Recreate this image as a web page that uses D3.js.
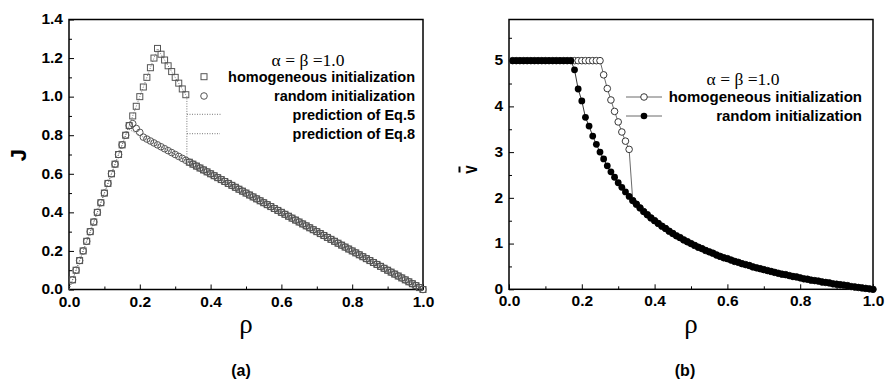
<!DOCTYPE html>
<html>
<head>
<meta charset="utf-8">
<script src="https://cdn.jsdelivr.net/npm/d3@7"></script>
<style>
  body { margin: 0; background: #fff; }
  svg text { font-family: "Liberation Sans", Arial, sans-serif; font-weight: bold; fill: #000; }
  svg text.serif { font-family: "Liberation Serif", "Times New Roman", serif; font-weight: normal; }
</style>
</head>
<body>
<div id="chart"></div>
<script>
// density grid (x values for both panels)
var rho = [
  0.01,0.02,0.03,0.04,0.05,0.06,0.07,0.08,0.09,0.10,
  0.11,0.12,0.13,0.14,0.15,0.16,0.17,0.18,0.19,0.20,
  0.21,0.22,0.23,0.24,0.25,0.26,0.27,0.28,0.29,0.30,
  0.31,0.32,0.33,0.34,0.35,0.36,0.37,0.38,0.39,0.40,
  0.41,0.42,0.43,0.44,0.45,0.46,0.47,0.48,0.49,0.50,
  0.51,0.52,0.53,0.54,0.55,0.56,0.57,0.58,0.59,0.60,
  0.61,0.62,0.63,0.64,0.65,0.66,0.67,0.68,0.69,0.70,
  0.71,0.72,0.73,0.74,0.75,0.76,0.77,0.78,0.79,0.80,
  0.81,0.82,0.83,0.84,0.85,0.86,0.87,0.88,0.89,0.90,
  0.91,0.92,0.93,0.94,0.95,0.96,0.97,0.98,0.99,1.00
];

// panel (a): flux J
var homogJ = [
  0.05,0.10,0.15,0.20,0.25,0.30,0.35,0.40,0.45,0.50,
  0.55,0.60,0.65,0.70,0.75,0.80,0.85,0.90,0.95,1.00,
  1.05,1.10,1.15,1.20,1.25,1.22,1.19,1.16,1.13,1.10,
  1.07,1.04,1.01,0.66,0.65,0.64,0.63,0.62,0.61,0.60,
  0.59,0.58,0.57,0.56,0.55,0.54,0.53,0.52,0.51,0.50,
  0.49,0.48,0.47,0.46,0.45,0.44,0.43,0.42,0.41,0.40,
  0.39,0.38,0.37,0.36,0.35,0.34,0.33,0.32,0.31,0.30,
  0.29,0.28,0.27,0.26,0.25,0.24,0.23,0.22,0.21,0.20,
  0.19,0.18,0.17,0.16,0.15,0.14,0.13,0.12,0.11,0.10,
  0.09,0.08,0.07,0.06,0.05,0.04,0.03,0.02,0.01,0.00
];
var randomJ = [
  0.05,0.10,0.15,0.20,0.25,0.30,0.35,0.40,0.45,0.50,
  0.55,0.60,0.65,0.70,0.75,0.80,0.85,0.86,0.835,0.815,
  0.79,0.78,0.77,0.76,0.75,0.74,0.73,0.72,0.71,0.70,
  0.69,0.68,0.67,0.66,0.65,0.64,0.63,0.62,0.61,0.60,
  0.59,0.58,0.57,0.56,0.55,0.54,0.53,0.52,0.51,0.50,
  0.49,0.48,0.47,0.46,0.45,0.44,0.43,0.42,0.41,0.40,
  0.39,0.38,0.37,0.36,0.35,0.34,0.33,0.32,0.31,0.30,
  0.29,0.28,0.27,0.26,0.25,0.24,0.23,0.22,0.21,0.20,
  0.19,0.18,0.17,0.16,0.15,0.14,0.13,0.12,0.11,0.10,
  0.09,0.08,0.07,0.06,0.05,0.04,0.03,0.02,0.01,0.00
];
// dotted predictions (Eq.5 homogeneous, Eq.8 random)
var eq5Rho = [0, 0.25, 0.333, 0.333, 1.0];
var eq5J   = [0, 1.25, 1.0, 0.667, 0];
var eq8Rho = [0, 0.1667, 1.0];
var eq8J   = [0, 0.8333, 0];

// panel (b): mean velocity
var homogV = [
  5,5,5,5,5,5,5,5,5,5,
  5,5,5,5,5,5,5,5,5,5,
  5,5,5,5,5,4.69,4.39,4.14,3.89,3.66,
  3.44,3.24,3.06,1.94,1.86,1.78,1.70,1.63,1.56,1.50,
  1.44,1.38,1.33,1.27,1.22,1.17,1.13,1.08,1.04,1.00,
  0.96,0.92,0.89,0.85,0.82,0.79,0.75,0.72,0.69,0.67,
  0.64,0.61,0.59,0.56,0.54,0.52,0.49,0.47,0.45,0.43,
  0.41,0.39,0.37,0.35,0.33,0.32,0.30,0.28,0.27,0.25,
  0.23,0.22,0.20,0.19,0.18,0.16,0.15,0.14,0.12,0.11,
  0.10,0.09,0.08,0.06,0.05,0.04,0.03,0.02,0.01,0.00
];
var randomV = [
  5,5,5,5,5,5,5,5,5,5,
  5,5,5,5,5,5,5,4.80,4.38,4.12,
  3.76,3.57,3.35,3.17,3.00,2.85,2.70,2.57,2.45,2.33,
  2.23,2.13,2.03,1.94,1.86,1.78,1.70,1.63,1.56,1.50,
  1.44,1.38,1.33,1.27,1.22,1.17,1.13,1.08,1.04,1.00,
  0.96,0.92,0.89,0.85,0.82,0.79,0.75,0.72,0.69,0.67,
  0.64,0.61,0.59,0.56,0.54,0.52,0.49,0.47,0.45,0.43,
  0.41,0.39,0.37,0.35,0.33,0.32,0.30,0.28,0.27,0.25,
  0.23,0.22,0.20,0.19,0.18,0.16,0.15,0.14,0.12,0.11,
  0.10,0.09,0.08,0.06,0.05,0.04,0.03,0.02,0.01,0.00
];

var xTicks = [0, 0.2, 0.4, 0.6, 0.8, 1.0];
var xMinor = [0.1, 0.3, 0.5, 0.7, 0.9];
var jTicks = [0, 0.2, 0.4, 0.6, 0.8, 1.0, 1.2, 1.4];
var jMinor = [0.1, 0.3, 0.5, 0.7, 0.9, 1.1, 1.3];
var vTicks = [0, 1, 2, 3, 4, 5];
var vMinor = [0.5, 1.5, 2.5, 3.5, 4.5, 5.5];
var legendA = ['homogeneous initialization', 'random initialization', 'prediction of Eq.5', 'prediction of Eq.8'];
var legendB = ['homogeneous initialization', 'random initialization'];

var svg = d3.select('#chart').append('svg').attr('width', 893).attr('height', 383);

var drawAxes = function(x, y, yTicks, yMinor, yFmt) {
  var g = svg.append('g');
  var h = y.range()[0];
  var gx = g.append('g').attr('transform', 'translate(0,' + h + ')');
  gx.call(d3.axisBottom(x).tickValues(xTicks).tickSizeInner(-5).tickSizeOuter(0).tickPadding(6).tickFormat(d3.format('.1f')));
  gx.append('g').call(d3.axisBottom(x).tickValues(xMinor).tickSizeInner(-3).tickSizeOuter(0).tickFormat(''));
  var gy = g.append('g').attr('transform', 'translate(' + x.range()[0] + ',0)');
  gy.call(d3.axisLeft(y).tickValues(yTicks).tickSizeInner(-5).tickSizeOuter(0).tickPadding(6).tickFormat(yFmt));
  gy.append('g').call(d3.axisLeft(y).tickValues(yMinor).tickSizeInner(-3).tickSizeOuter(0).tickFormat(''));
  g.selectAll('.domain').remove();
  g.selectAll('.tick line').attr('stroke', '#000').attr('stroke-width', 1);
  g.selectAll('.tick text').style('font-size', '15.5px').style('font-family', '"Liberation Sans", Arial, sans-serif').style('font-weight', 'bold');
  gy.selectAll('.tick text').attr('dy', '0.28em');
  svg.append('rect')
    .attr('x', x.range()[0]).attr('y', y.range()[1])
    .attr('width', x.range()[1] - x.range()[0]).attr('height', y.range()[0] - y.range()[1])
    .attr('fill', 'none').attr('stroke', '#000').attr('stroke-width', 1.5);
  // x label
  var cx = (x.range()[0] + x.range()[1]) / 2;
  svg.append('text').attr('class', 'serif').attr('x', cx).attr('y', 333)
    .attr('text-anchor', 'middle').style('font-size', '27px').text('ρ');
};

// ---------- panel (a)
var xa = d3.scaleLinear().domain([0, 1]).range([69, 423]);
var ya = d3.scaleLinear().domain([0, 1.4]).range([289.5, 19.5]);
drawAxes(xa, ya, jTicks, jMinor, d3.format('.1f'));

var lineA = d3.line().x(function(d) { return xa(d[0]); }).y(function(d) { return ya(d[1]); });
svg.append('path').datum(d3.zip(eq5Rho, eq5J)).attr('d', lineA)
  .attr('fill', 'none').attr('stroke', '#777').attr('stroke-width', 1).attr('stroke-dasharray', '1,1.5');
svg.append('path').datum(d3.zip(eq8Rho, eq8J)).attr('d', lineA)
  .attr('fill', 'none').attr('stroke', '#777').attr('stroke-width', 1).attr('stroke-dasharray', '1,1.5');

svg.append('g').selectAll('rect').data(d3.zip(rho, homogJ)).enter().append('rect')
  .attr('x', function(d) { return xa(d[0]) - 3; })
  .attr('y', function(d) { return ya(d[1]) - 3; })
  .attr('width', 6).attr('height', 6)
  .attr('fill', 'none').attr('stroke', '#555').attr('stroke-width', 1);
svg.append('g').selectAll('circle').data(d3.zip(rho, randomJ)).enter().append('circle')
  .attr('cx', function(d) { return xa(d[0]); })
  .attr('cy', function(d) { return ya(d[1]); })
  .attr('r', 3.3)
  .attr('fill', 'none').attr('stroke', '#555').attr('stroke-width', 1);

// legend (a)
svg.append('text').attr('class', 'serif').attr('x', 308).attr('y', 65.5)
  .attr('text-anchor', 'middle').style('font-size', '17.5px').text('α = β =1.0');
var legA = svg.append('g');
legA.selectAll('text').data(legendA).enter().append('text')
  .attr('x', 415).attr('y', function(d, i) { return [76.7, 96, 115, 134][i]; })
  .attr('dy', '0.35em').attr('text-anchor', 'end').style('font-size', '14.5px').text(function(d) { return d; });
legA.append('rect').attr('x', 201).attr('y', 73.7).attr('width', 6).attr('height', 6)
  .attr('fill', 'none').attr('stroke', '#555');
legA.append('circle').attr('cx', 204).attr('cy', 96).attr('r', 3.3)
  .attr('fill', 'none').attr('stroke', '#555');
legA.append('line').attr('x1', 187).attr('x2', 222).attr('y1', 114.3).attr('y2', 114.3)
  .attr('stroke', '#777').attr('stroke-dasharray', '1,1.5');
legA.append('line').attr('x1', 187).attr('x2', 220).attr('y1', 133.7).attr('y2', 133.7)
  .attr('stroke', '#777').attr('stroke-dasharray', '1,1.5');

svg.append('text').attr('x', 18).attr('y', 155).attr('transform', 'rotate(-90,18,155)')
  .attr('text-anchor', 'middle').attr('dy', '0.35em').style('font-size', '22px').text('J');
svg.append('text').attr('x', 241).attr('y', 376).attr('text-anchor', 'middle').style('font-size', '16px').text('(a)');

// ---------- panel (b)
var xb = d3.scaleLinear().domain([0, 1]).range([509, 873]);
var yb = d3.scaleLinear().domain([0, 5.9]).range([289.3, 19.5]);
drawAxes(xb, yb, vTicks, vMinor, d3.format('d'));

var lineB = d3.line().x(function(d) { return xb(d[0]); }).y(function(d) { return yb(d[1]); });
svg.append('path').datum(d3.zip(rho, homogV)).attr('d', lineB)
  .attr('fill', 'none').attr('stroke', '#444').attr('stroke-width', 0.8);
svg.append('g').selectAll('circle').data(d3.zip(rho, homogV)).enter().append('circle')
  .attr('cx', function(d) { return xb(d[0]); })
  .attr('cy', function(d) { return yb(d[1]); })
  .attr('r', 3.3)
  .attr('fill', '#fff').attr('stroke', '#222').attr('stroke-width', 0.9);
svg.append('path').datum(d3.zip(rho, randomV)).attr('d', lineB)
  .attr('fill', 'none').attr('stroke', '#000').attr('stroke-width', 0.8);
svg.append('g').selectAll('circle').data(d3.zip(rho, randomV)).enter().append('circle')
  .attr('cx', function(d) { return xb(d[0]); })
  .attr('cy', function(d) { return yb(d[1]); })
  .attr('r', 3.4)
  .attr('fill', '#000');

// legend (b)
svg.append('text').attr('class', 'serif').attr('x', 743).attr('y', 85)
  .attr('text-anchor', 'middle').style('font-size', '17.5px').text('α = β =1.0');
var legB = svg.append('g');
legB.selectAll('text').data(legendB).enter().append('text')
  .attr('x', 862).attr('y', function(d, i) { return [97, 116][i]; })
  .attr('dy', '0.35em').attr('text-anchor', 'end').style('font-size', '15px').text(function(d) { return d; });
[97, 116].forEach(function(yy, i) {
  legB.append('line').attr('x1', 626).attr('x2', 662).attr('y1', yy).attr('y2', yy)
    .attr('stroke', '#444').attr('stroke-width', 0.8);
  legB.append('circle').attr('cx', 644).attr('cy', yy).attr('r', 3.3)
    .attr('fill', i ? '#000' : '#fff').attr('stroke', i ? 'none' : '#222').attr('stroke-width', 0.9);
});

// v-bar label: rotated v with a macron drawn as a short stroke
var vl = svg.append('g').attr('transform', 'translate(471,169.5) rotate(-90)');
vl.append('text').attr('text-anchor', 'middle').attr('y', 5.5)
  .attr('transform', 'scale(0.72,1)').style('font-size', '21px').text('v');
vl.append('line').attr('x1', -3).attr('x2', 3).attr('y1', -11.5).attr('y2', -11.5)
  .attr('stroke', '#000').attr('stroke-width', 2);
svg.append('text').attr('x', 685).attr('y', 376).attr('text-anchor', 'middle').style('font-size', '16px').text('(b)');
</script>
</body>
</html>
